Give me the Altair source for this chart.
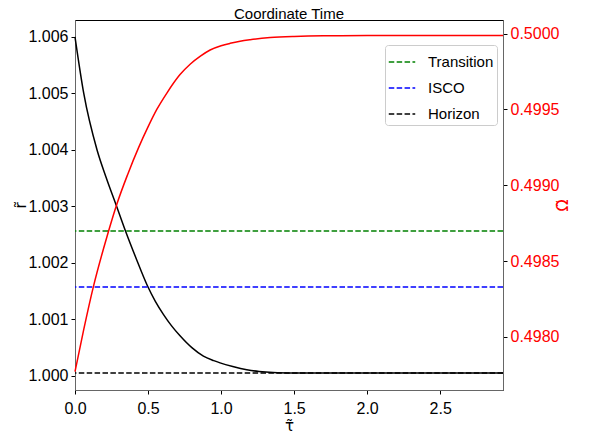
import altair as alt
import pandas as pd

# ---- data ----
t_r = [0.0, 0.06, 0.151, 0.215, 0.281, 0.345, 0.42, 0.495, 0.55, 0.605, 0.66,
       0.719, 0.8, 0.879, 0.95, 0.993, 1.08, 1.176, 1.26, 1.356, 1.5, 1.7,
       2.0, 2.5, 2.93]
r_vals = [1.00600, 1.00500, 1.00400, 1.00350, 1.00303, 1.00257, 1.00207,
          1.00160, 1.00132, 1.00109, 1.00089, 1.00071, 1.00050, 1.00035,
          1.00027, 1.00023, 1.000165, 1.000108, 1.000078, 1.000060, 1.000052,
          1.00005, 1.00005, 1.00005, 1.00005]

t_om = [0.0, 0.06, 0.126, 0.196, 0.231, 0.288, 0.36, 0.436, 0.50, 0.56, 0.63,
        0.719, 0.79, 0.856, 0.925, 1.0, 1.062, 1.13, 1.199, 1.336, 1.5, 1.7,
        2.0, 2.93]
om_vals = [0.497771, 0.498050, 0.498332, 0.498585, 0.498702, 0.498880, 0.499070,
           0.499250, 0.499385, 0.499500, 0.499610, 0.499730, 0.499800, 0.499850,
           0.499892, 0.499920, 0.499936, 0.499950, 0.499960, 0.499974, 0.499982,
           0.499986, 0.499987, 0.499987]

ref_names = ["Transition", "ISCO", "Horizon"]
ref_vals = [1.002566, 1.001575, 1.00005]
ref_colors = ["#008000", "#0000ff", "#000000"]

x_ticks = [0.0, 0.5, 1.0, 1.5, 2.0, 2.5]
r_ticks = [1.000, 1.001, 1.002, 1.003, 1.004, 1.005, 1.006]
om_ticks = [0.4980, 0.4985, 0.4990, 0.4995, 0.5000]

chart_title = ["Coordinate Time"]

FONT = "Liberation Sans"
SYM_FONT = "DejaVu Sans"

df_r = pd.DataFrame({"t": t_r, "r": r_vals})
df_om = pd.DataFrame({"t": t_om, "om": om_vals})
df_ref = pd.DataFrame({"name": ref_names, "r": ref_vals})
df_title = pd.DataFrame({"label": chart_title})

x_enc = alt.X(
    "t:Q",
    scale=alt.Scale(domain=[0, 2.93], nice=False, zero=False),
    axis=alt.Axis(values=x_ticks, format=".1f", title="τ̃", grid=False,
                  labelFlush=False,
                  labelFont=FONT, labelFontSize=16, labelColor="black",
                  labelPadding=6, tickSize=4, tickColor="black",
                  domainColor="#666666", titleFont=SYM_FONT, titleFontSize=15,
                  titleFontWeight="normal", titleColor="black",
                  titleY=35, titleBaseline="middle"),
)

r_scale = alt.Scale(domain=[0.99975, 1.0063], nice=False, zero=False)
r_axis = alt.Axis(values=r_ticks, format=".3f", title="r̃", grid=False,
                  labelFlush=False,
                  labelFont=FONT, labelFontSize=16, labelColor="black",
                  labelPadding=3, tickSize=4, tickColor="black",
                  domainColor="#666666", titleFont=SYM_FONT, titleFontSize=16,
                  titleFontWeight="normal", titleColor="black",
                  titleX=-55, titleAngle=270, titleAlign="center",
                  titleBaseline="middle")

black = alt.Chart(df_r).mark_line(color="black", strokeWidth=1.5,
                                  interpolate="monotone").encode(
    x=x_enc, y=alt.Y("r:Q", scale=r_scale, axis=r_axis))

rules = alt.Chart(df_ref).mark_rule(strokeDash=[5.5, 2.4], strokeWidth=1.5).encode(
    y=alt.Y("r:Q", scale=r_scale, axis=r_axis),
    color=alt.Color(
        "name:N",
        scale=alt.Scale(domain=ref_names, range=ref_colors),
        title=None,
        legend=alt.Legend(orient="none", legendX=310, legendY=25,
                          symbolType="stroke", symbolStrokeWidth=1.5,
                          symbolDash=[5.5, 2.4], symbolSize=700,
                          labelFont=FONT, labelFontSize=15, labelColor="black",
                          labelOffset=12, rowPadding=4, padding=3,
                          strokeColor="#cccccc", cornerRadius=3,
                          fillColor="white"),
    ),
)

om_axis = alt.Axis(values=om_ticks, format=".4f", title="Ω̃", orient="right",
                   grid=False, labelFlush=False, labelFont=FONT, labelFontSize=16,
                   labelColor="red", labelPadding=3, tickSize=4,
                   tickColor="black", domainColor="#666666", titleFont=SYM_FONT,
                   titleFontSize=16, titleFontWeight="normal", titleColor="red",
                   titleX=59, titleAngle=270, titleAlign="center",
                   titleBaseline="middle")

red = alt.Chart(df_om).mark_line(color="red", strokeWidth=1.5,
                                 interpolate="monotone").encode(
    x=x_enc,
    y=alt.Y("om:Q", scale=alt.Scale(domain=[0.49765, 0.50009], nice=False,
                                    zero=False), axis=om_axis))

title_text = alt.Chart(df_title).mark_text(
    font=FONT, fontSize=15, color="black", align="center", baseline="alphabetic"
).encode(x=alt.value(214), y=alt.value(-1.5), text="label:N")

chart = alt.layer(alt.layer(black, rules), red, title_text).resolve_scale(
    y="independent"
).properties(
    width=428,
    height=370,
    autosize=alt.AutoSizeParams(type="none"),
    padding={"left": 67, "top": 12, "right": 75, "bottom": 43},
).configure_view(stroke="black", strokeWidth=1)

chart.save("out.html", embed_options={"renderer": "svg", "actions": False})
